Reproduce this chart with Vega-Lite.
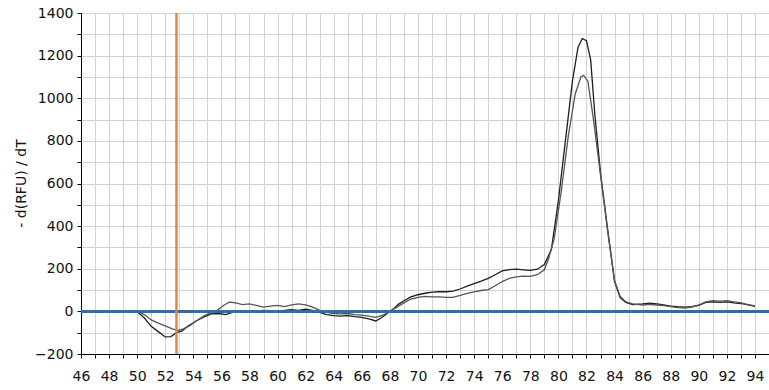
{
  "$schema": "https://vega.github.io/schema/vega-lite/v6.json",
  "width": 688,
  "height": 341,
  "autosize": "none",
  "padding": {"left": 81, "top": 13, "right": 0, "bottom": 36},
  "background": "white",
  "config": {
    "view": {"stroke": null},
    "font": "DejaVu Sans",
    "axis": {
      "gridColor": "#d2d2d2",
      "gridWidth": 1,
      "domainColor": "#000000",
      "domainWidth": 1,
      "tickColor": "#000000",
      "tickSize": 4,
      "labelColor": "#111111",
      "labelFont": "DejaVu Sans",
      "labelFontSize": 14,
      "labelOverlap": false,
      "labelFlush": false
    }
  },
  "datasets": {
    "melt": [
      {"t": 49.5, "v": 0, "well": "A"},
      {"t": 50, "v": -2, "well": "A"},
      {"t": 50.5, "v": -30, "well": "A"},
      {"t": 51, "v": -70, "well": "A"},
      {"t": 51.5, "v": -95, "well": "A"},
      {"t": 52, "v": -120, "well": "A"},
      {"t": 52.4, "v": -118, "well": "A"},
      {"t": 52.8, "v": -100, "well": "A"},
      {"t": 53.2, "v": -92, "well": "A"},
      {"t": 53.6, "v": -70, "well": "A"},
      {"t": 54.2, "v": -45, "well": "A"},
      {"t": 54.8, "v": -25, "well": "A"},
      {"t": 55.3, "v": -12, "well": "A"},
      {"t": 55.8, "v": -10, "well": "A"},
      {"t": 56.3, "v": -15, "well": "A"},
      {"t": 56.8, "v": -5, "well": "A"},
      {"t": 57.3, "v": 0, "well": "A"},
      {"t": 58, "v": 2, "well": "A"},
      {"t": 58.5, "v": 0, "well": "A"},
      {"t": 59, "v": 5, "well": "A"},
      {"t": 59.5, "v": 3, "well": "A"},
      {"t": 60, "v": 0, "well": "A"},
      {"t": 60.5, "v": 5, "well": "A"},
      {"t": 61, "v": 8, "well": "A"},
      {"t": 61.5, "v": 5, "well": "A"},
      {"t": 62, "v": 10, "well": "A"},
      {"t": 62.5, "v": 5, "well": "A"},
      {"t": 63, "v": -5, "well": "A"},
      {"t": 63.5, "v": -15, "well": "A"},
      {"t": 64, "v": -20, "well": "A"},
      {"t": 64.5, "v": -22, "well": "A"},
      {"t": 65, "v": -20, "well": "A"},
      {"t": 65.5, "v": -25, "well": "A"},
      {"t": 66, "v": -28, "well": "A"},
      {"t": 66.5, "v": -35, "well": "A"},
      {"t": 67, "v": -45, "well": "A"},
      {"t": 67.4, "v": -30, "well": "A"},
      {"t": 67.9, "v": -5, "well": "A"},
      {"t": 68.3, "v": 15, "well": "A"},
      {"t": 68.6, "v": 33, "well": "A"},
      {"t": 69, "v": 50, "well": "A"},
      {"t": 69.5, "v": 68, "well": "A"},
      {"t": 70, "v": 78, "well": "A"},
      {"t": 70.5, "v": 85, "well": "A"},
      {"t": 71, "v": 90, "well": "A"},
      {"t": 71.5, "v": 92, "well": "A"},
      {"t": 72, "v": 92, "well": "A"},
      {"t": 72.5, "v": 95, "well": "A"},
      {"t": 73, "v": 105, "well": "A"},
      {"t": 73.5, "v": 118, "well": "A"},
      {"t": 74, "v": 130, "well": "A"},
      {"t": 74.5, "v": 142, "well": "A"},
      {"t": 75, "v": 155, "well": "A"},
      {"t": 75.5, "v": 172, "well": "A"},
      {"t": 76, "v": 190, "well": "A"},
      {"t": 76.5, "v": 196, "well": "A"},
      {"t": 77, "v": 198, "well": "A"},
      {"t": 77.5, "v": 195, "well": "A"},
      {"t": 78, "v": 192, "well": "A"},
      {"t": 78.5, "v": 198, "well": "A"},
      {"t": 79, "v": 220, "well": "A"},
      {"t": 79.5, "v": 290, "well": "A"},
      {"t": 80, "v": 520, "well": "A"},
      {"t": 80.5, "v": 800, "well": "A"},
      {"t": 81, "v": 1080, "well": "A"},
      {"t": 81.4, "v": 1240, "well": "A"},
      {"t": 81.7, "v": 1280, "well": "A"},
      {"t": 82, "v": 1270, "well": "A"},
      {"t": 82.3, "v": 1180, "well": "A"},
      {"t": 82.6, "v": 920, "well": "A"},
      {"t": 83, "v": 650, "well": "A"},
      {"t": 83.5, "v": 390, "well": "A"},
      {"t": 84, "v": 140, "well": "A"},
      {"t": 84.4, "v": 65, "well": "A"},
      {"t": 84.8, "v": 42, "well": "A"},
      {"t": 85.3, "v": 32, "well": "A"},
      {"t": 86, "v": 35, "well": "A"},
      {"t": 86.5, "v": 38, "well": "A"},
      {"t": 87, "v": 35, "well": "A"},
      {"t": 87.5, "v": 30, "well": "A"},
      {"t": 88, "v": 25, "well": "A"},
      {"t": 88.5, "v": 22, "well": "A"},
      {"t": 89, "v": 20, "well": "A"},
      {"t": 89.5, "v": 22, "well": "A"},
      {"t": 90, "v": 28, "well": "A"},
      {"t": 90.5, "v": 42, "well": "A"},
      {"t": 91, "v": 45, "well": "A"},
      {"t": 91.5, "v": 42, "well": "A"},
      {"t": 92, "v": 45, "well": "A"},
      {"t": 92.5, "v": 40, "well": "A"},
      {"t": 93, "v": 37, "well": "A"},
      {"t": 93.5, "v": 30, "well": "A"},
      {"t": 94, "v": 24, "well": "A"},
      {"t": 49.5, "v": 0, "well": "B"},
      {"t": 50, "v": 0, "well": "B"},
      {"t": 50.5, "v": -15, "well": "B"},
      {"t": 51, "v": -40, "well": "B"},
      {"t": 51.5, "v": -55, "well": "B"},
      {"t": 52, "v": -68, "well": "B"},
      {"t": 52.5, "v": -82, "well": "B"},
      {"t": 52.9, "v": -89, "well": "B"},
      {"t": 53.3, "v": -82, "well": "B"},
      {"t": 53.8, "v": -65, "well": "B"},
      {"t": 54.2, "v": -45, "well": "B"},
      {"t": 54.8, "v": -20, "well": "B"},
      {"t": 55.3, "v": -5, "well": "B"},
      {"t": 55.7, "v": 5, "well": "B"},
      {"t": 56.2, "v": 30, "well": "B"},
      {"t": 56.6, "v": 44, "well": "B"},
      {"t": 57, "v": 40, "well": "B"},
      {"t": 57.5, "v": 32, "well": "B"},
      {"t": 58, "v": 35, "well": "B"},
      {"t": 58.5, "v": 28, "well": "B"},
      {"t": 59, "v": 20, "well": "B"},
      {"t": 59.5, "v": 25, "well": "B"},
      {"t": 60, "v": 28, "well": "B"},
      {"t": 60.5, "v": 22, "well": "B"},
      {"t": 61, "v": 30, "well": "B"},
      {"t": 61.5, "v": 35, "well": "B"},
      {"t": 62, "v": 30, "well": "B"},
      {"t": 62.5, "v": 20, "well": "B"},
      {"t": 63, "v": 5, "well": "B"},
      {"t": 63.5, "v": -5, "well": "B"},
      {"t": 64, "v": -10, "well": "B"},
      {"t": 64.5, "v": -12, "well": "B"},
      {"t": 65, "v": -10, "well": "B"},
      {"t": 65.5, "v": -15, "well": "B"},
      {"t": 66, "v": -18, "well": "B"},
      {"t": 66.5, "v": -22, "well": "B"},
      {"t": 67, "v": -28, "well": "B"},
      {"t": 67.5, "v": -18, "well": "B"},
      {"t": 68, "v": 0, "well": "B"},
      {"t": 68.5, "v": 20, "well": "B"},
      {"t": 69, "v": 40, "well": "B"},
      {"t": 69.5, "v": 58, "well": "B"},
      {"t": 70, "v": 66, "well": "B"},
      {"t": 70.5, "v": 70, "well": "B"},
      {"t": 71, "v": 68, "well": "B"},
      {"t": 71.5, "v": 68, "well": "B"},
      {"t": 72, "v": 66, "well": "B"},
      {"t": 72.5, "v": 66, "well": "B"},
      {"t": 73, "v": 75, "well": "B"},
      {"t": 73.5, "v": 85, "well": "B"},
      {"t": 74, "v": 92, "well": "B"},
      {"t": 74.5, "v": 98, "well": "B"},
      {"t": 75, "v": 102, "well": "B"},
      {"t": 75.5, "v": 120, "well": "B"},
      {"t": 76, "v": 140, "well": "B"},
      {"t": 76.5, "v": 155, "well": "B"},
      {"t": 77, "v": 162, "well": "B"},
      {"t": 77.5, "v": 165, "well": "B"},
      {"t": 78, "v": 164, "well": "B"},
      {"t": 78.5, "v": 172, "well": "B"},
      {"t": 79, "v": 195, "well": "B"},
      {"t": 79.3, "v": 247, "well": "B"},
      {"t": 79.7, "v": 340, "well": "B"},
      {"t": 80.2, "v": 560, "well": "B"},
      {"t": 80.7, "v": 820, "well": "B"},
      {"t": 81.2, "v": 1020, "well": "B"},
      {"t": 81.6, "v": 1100, "well": "B"},
      {"t": 81.8, "v": 1107, "well": "B"},
      {"t": 82.1, "v": 1080, "well": "B"},
      {"t": 82.5, "v": 900, "well": "B"},
      {"t": 83, "v": 640, "well": "B"},
      {"t": 83.5, "v": 380, "well": "B"},
      {"t": 84, "v": 145, "well": "B"},
      {"t": 84.4, "v": 70, "well": "B"},
      {"t": 84.8, "v": 45, "well": "B"},
      {"t": 85.3, "v": 35, "well": "B"},
      {"t": 86, "v": 30, "well": "B"},
      {"t": 86.5, "v": 33, "well": "B"},
      {"t": 87, "v": 30, "well": "B"},
      {"t": 87.5, "v": 27, "well": "B"},
      {"t": 88, "v": 22, "well": "B"},
      {"t": 88.5, "v": 18, "well": "B"},
      {"t": 89, "v": 15, "well": "B"},
      {"t": 89.5, "v": 20, "well": "B"},
      {"t": 90, "v": 30, "well": "B"},
      {"t": 90.5, "v": 45, "well": "B"},
      {"t": 91, "v": 50, "well": "B"},
      {"t": 91.5, "v": 48, "well": "B"},
      {"t": 92, "v": 50, "well": "B"},
      {"t": 92.5, "v": 45, "well": "B"},
      {"t": 93, "v": 40, "well": "B"},
      {"t": 93.5, "v": 32, "well": "B"},
      {"t": 94, "v": 26, "well": "B"}
    ],
    "baseline": [
      {"t": 46, "t2": 95, "v": 0}
    ],
    "cursor": [
      {"t": 52.8, "v": -200, "v2": 1400}
    ]
  },
  "encoding": {
    "x": {
      "field": "t",
      "type": "quantitative",
      "scale": {"domain": [46, 95], "nice": false, "zero": false},
      "axis": {
        "title": null,
        "values": [46,47,48,49,50,51,52,53,54,55,56,57,58,59,60,61,62,63,64,65,66,67,68,69,70,71,72,73,74,75,76,77,78,79,80,81,82,83,84,85,86,87,88,89,90,91,92,93,94,95],
        "labelExpr": "datum.value % 2 == 0 && datum.value < 95 ? datum.label : ''",
        "labelPadding": 11,
        "grid": true
      }
    },
    "y": {
      "field": "v",
      "type": "quantitative",
      "scale": {"domain": [-200, 1400], "nice": false, "zero": false},
      "axis": {
        "title": "- d(RFU) / dT",
        "titleFont": "DejaVu Sans",
        "titleFontSize": 14,
        "titleFontWeight": "normal",
        "titleColor": "#111111",
        "titleX": -60,
        "titleY": 170,
        "titleAngle": -90,
        "titleAlign": "center",
        "titleBaseline": "middle",
        "values": [-200,-100,0,100,200,300,400,500,600,700,800,900,1000,1100,1200,1300,1400],
        "format": "d",
        "labelExpr": "datum.value % 200 == 0 ? datum.label : ''",
        "labelPadding": 4,
        "grid": true
      }
    }
  },
  "layer": [
    {
      "data": {"name": "melt"},
      "mark": {"type": "line", "strokeWidth": 1.3, "interpolate": "linear"},
      "encoding": {
        "color": {
          "field": "well",
          "type": "nominal",
          "scale": {"domain": ["A", "B"], "range": ["#1e1e1e", "#555555"]},
          "legend": null
        }
      }
    },
    {
      "data": {"name": "baseline"},
      "mark": {"type": "rule", "color": "#2f6ea5", "strokeWidth": 3},
      "encoding": {"x2": {"field": "t2"}}
    },
    {
      "data": {"name": "cursor"},
      "mark": {"type": "rule", "color": "#e0873e", "strokeWidth": 2.5},
      "encoding": {"y2": {"field": "v2"}}
    }
  ]
}
